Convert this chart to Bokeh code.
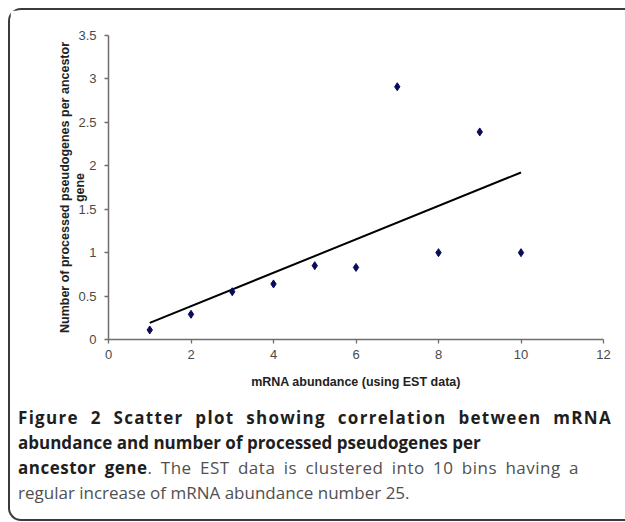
import numpy as np
from bokeh.plotting import figure
from bokeh.models import Range1d, FixedTicker, Div, ColumnDataSource
from bokeh.layouts import column
from bokeh.embed import file_html
from bokeh.resources import INLINE

# ---- data ----
abundance_bin = [1, 2, 3, 4, 5, 6, 7, 8, 9, 10]
pseudogenes_per_gene = [0.11, 0.29, 0.55, 0.64, 0.85, 0.83, 2.91, 1.00, 2.39, 1.00]

x_ticks = [0, 2, 4, 6, 8, 10, 12]
y_ticks = [0, 0.5, 1, 1.5, 2, 2.5, 3, 3.5]
y_tick_labels = ["0", "0.5", "1", "1.5", "2", "2.5", "3", "3.5"]

x_title = "mRNA abundance (using EST data)"
y_title_lines = ["Number of processed pseudogenes per ancestor", "gene"]

caption_bold_1 = "Figure 2 Scatter plot showing correlation between mRNA"
caption_bold_2 = "abundance and number of processed pseudogenes per"
caption_bold_3 = "ancestor gene"
caption_rest_3 = ". The EST data is clustered into 10 bins having a"
caption_rest_4 = "regular increase of mRNA abundance number 25."

# linear trend line fitted to the data (Excel-style linear trendline)
slope, intercept = np.polyfit(abundance_bin, pseudogenes_per_gene, 1)
trend_x = [min(abundance_bin), max(abundance_bin)]
trend_y = [slope * v + intercept for v in trend_x]

src = ColumnDataSource(dict(x=abundance_bin, y=pseudogenes_per_gene))

p = figure(width=615, height=385, output_backend="svg", toolbar_location=None,
           x_range=Range1d(0, 12), y_range=Range1d(0, 3.5),
           min_border_left=98, min_border_right=22, min_border_top=25, min_border_bottom=56)
p.grid.visible = False
p.outline_line_color = None
p.background_fill_color = "white"
p.border_fill_color = "white"

p.line(trend_x, trend_y, line_color="black", line_width=2)
p.scatter("x", "y", source=src, marker="diamond", size=8,
          fill_color="#0b0b5c", line_color="#0b0b5c")

axis_color = "#6e6e6e"
label_color = "#4a4a4a"
for ax in (p.xaxis[0], p.yaxis[0]):
    ax.axis_line_color = axis_color
    ax.axis_line_width = 1.5
    ax.major_tick_line_color = axis_color
    ax.major_tick_line_width = 1.3
    ax.major_tick_in = 0
    ax.major_tick_out = 4
    ax.minor_tick_line_color = None
    ax.major_label_text_font = "Liberation Sans"
    ax.major_label_text_font_size = "13px"
    ax.major_label_text_color = label_color
    ax.axis_label_text_font = "Liberation Sans"
    ax.axis_label_text_font_style = "bold"
    ax.axis_label_text_color = "#222222"

p.xaxis.ticker = FixedTicker(ticks=x_ticks)
p.yaxis.ticker = FixedTicker(ticks=y_ticks)
p.yaxis.major_label_overrides = {t: s for t, s in zip(y_ticks, y_tick_labels)}
p.xaxis.major_label_standoff = 6
p.yaxis.major_label_standoff = 8

p.xaxis.axis_label = x_title
p.xaxis.axis_label_text_font_size = "12.5px"
p.xaxis.axis_label_standoff = 13

p.yaxis.axis_label = "\n".join(y_title_lines)
p.yaxis.axis_label_text_font_size = "12.5px"
p.yaxis.axis_label_text_line_height = 1.12
p.yaxis.axis_label_standoff = -12

bold = "font-weight:bold;color:#1e1e1e"
caption_html = (
    '<div style="font-family:\'Open Sans\';font-size:17px;line-height:25px;color:#505050;width:594px">'
    '<div style="' + bold + ';letter-spacing:1.3px;text-align:justify;text-align-last:justify">'
    + caption_bold_1 + '</div>'
    '<div style="' + bold + '">' + caption_bold_2 + '</div>'
    '<div style="width:561px;letter-spacing:0.5px;text-align:justify;text-align-last:justify">'
    '<span style="' + bold + '">' + caption_bold_3 + '</span>'
    + caption_rest_3 + '</div>'
    '<div>' + caption_rest_4 + '</div>'
    '</div>'
)
cap = Div(text=caption_html, width=600, height=105, margin=(10, 0, 0, 8))

layout = column(p, cap, width=617, height=513,
                styles={"position": "absolute", "top": "8px", "left": "8px",
                        "border-top": "2px solid #3a3a3a",
                        "border-left": "2px solid #3a3a3a",
                        "border-bottom": "2px solid #3a3a3a",
                        "border-right": "0px none",
                        "border-top-left-radius": "13px",
                        "border-bottom-left-radius": "13px",
                        "border-top-right-radius": "0px",
                        "border-bottom-right-radius": "0px",
                        "background": "white", "box-sizing": "border-box"})

open("out.html", "w").write(file_html(layout, INLINE))
